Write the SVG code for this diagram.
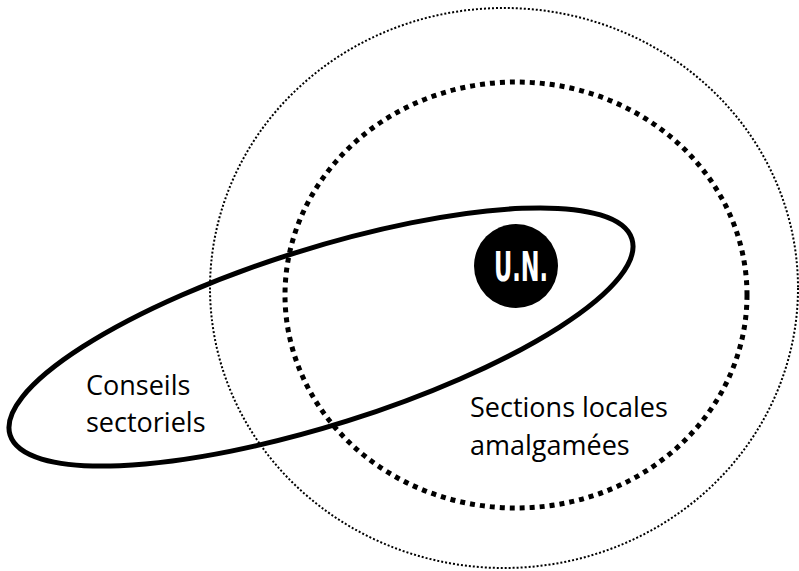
<svg xmlns="http://www.w3.org/2000/svg" width="799" height="571" viewBox="0 0 799 571">
<style>
.lbl{font-family:"Open Sans","Noto Sans",sans-serif;font-size:27px;fill:#000}
.un{font-family:"Liberation Sans Narrow","DejaVu Sans Condensed","Liberation Sans",sans-serif;font-weight:bold;font-size:40px;fill:#fff}
</style>
<rect width="799" height="571" fill="#fff"/>
<g id="outer">
<ellipse cx="504" cy="288" rx="294" ry="280" fill="none" stroke="#000" stroke-width="2" stroke-dasharray="2 2"/>
</g>
<g id="sections">
<ellipse cx="516" cy="295" rx="231" ry="213" fill="none" stroke="#000" stroke-width="5" stroke-dasharray="5 5"/>
<text class="lbl" x="470" y="417">Sections locales</text>
<text class="lbl" x="470" y="455">amalgamées</text>
</g>
<g id="conseils">
<ellipse cx="321" cy="337" rx="326" ry="88" transform="rotate(-17.5 321 337)" fill="none" stroke="#000" stroke-width="5"/>
<text class="lbl" x="86" y="395">Conseils</text>
<text class="lbl" x="86" y="432">sectoriels</text>
</g>
<g id="un">
<circle cx="516" cy="266" r="42" fill="#000"/>
<text class="un" x="521" y="281" text-anchor="middle" textLength="54" lengthAdjust="spacingAndGlyphs">U.N.</text>
</g>
</svg>
